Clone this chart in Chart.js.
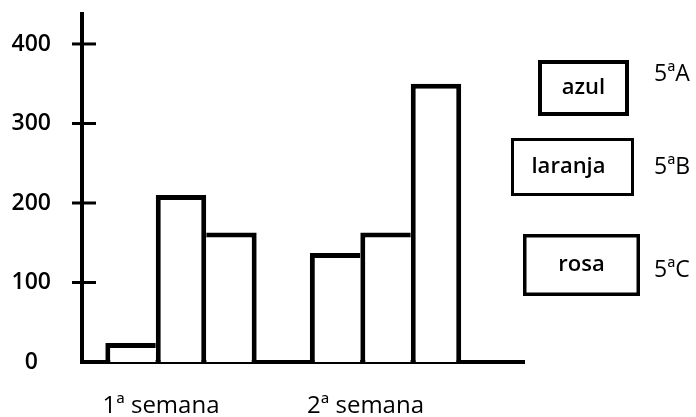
<!DOCTYPE html>
<html><head><meta charset="utf-8">
<script src="https://cdn.jsdelivr.net/npm/chart.js@4.4.1/dist/chart.umd.min.js"></script>
<style>html,body{margin:0;padding:0;background:#fff;overflow:hidden}#wrap{width:696px;height:417px;position:relative}</style>
</head><body><div id="wrap"><canvas id="c" width="696" height="417"></canvas></div>
<script>
const categories = ['1ª semana', '2ª semana'];
const seriesNames = ['5ªA', '5ªB', '5ªC'];
const colorNames = ['azul', 'laranja', 'rosa'];
const values5A = [24, 137];
const values5B = [210, 163];
const values5C = [163, 350];
const yTicks = [0, 100, 200, 300, 400];

const allSeries = [values5A, values5B, values5C];
const FONT = "'Open Sans', 'Liberation Sans', sans-serif";
const BW = 5;

function borderFor(ctx) {
  const d = ctx.datasetIndex, i = ctx.dataIndex;
  const v = allSeries[d][i];
  const prev = d > 0 ? allSeries[d - 1][i] : null;
  const next = d < allSeries.length - 1 ? allSeries[d + 1][i] : null;
  return {
    top: BW,
    bottom: 0,
    left: (prev === null || v >= prev) ? BW : 0,
    right: (next === null || v > next) ? BW : 0
  };
}

const legendPlugin = {
  id: 'boxLegend',
  afterDraw(chart, args, opts) {
    const ctx = chart.ctx;
    ctx.save();
    opts.boxes.forEach((b, i) => {
      ctx.lineWidth = b.lw;
      ctx.strokeStyle = '#000';
      ctx.strokeRect(b.x + b.lw / 2, b.y + b.lw / 2, b.w - b.lw, b.h - b.lw);
      ctx.fillStyle = '#000';
      ctx.font = "600 22px " + FONT;
      ctx.textAlign = 'center';
      ctx.textBaseline = 'middle';
      ctx.fillText(colorNames[i], b.x + b.w / 2 + (b.dx || 0), b.y + b.h / 2);
      ctx.font = "23px " + FONT;
      ctx.textAlign = 'left';
      ctx.fillText(chart.data.datasets[i].label, opts.labelX, b.ly);
    });
    ctx.restore();
  }
};

const crossPlugin = {
  id: 'crossTicks',
  afterDraw(chart) {
    const y = chart.scales.y;
    const ctx = chart.ctx;
    const x0 = chart.chartArea.left;
    ctx.save();
    ctx.strokeStyle = '#000';
    ctx.lineWidth = 3;
    y.ticks.forEach(t => {
      if (t.value === 0) return;
      const py = y.getPixelForValue(t.value);
      ctx.beginPath();
      ctx.moveTo(x0 - 10, py);
      ctx.lineTo(x0 + 14, py);
      ctx.stroke();
    });
    ctx.restore();
  }
};

function noPad(s) {
  s.paddingTop = 0; s.paddingBottom = 0; s.paddingLeft = 0; s.paddingRight = 0;
}

new Chart(document.getElementById('c'), {
  type: 'bar',
  data: {
    datasets: allSeries.map((vals, d) => ({
      label: seriesNames[d],
      data: vals.map((v, i) => ({ x: i + 1, y: v })),
      backgroundColor: '#fff',
      borderColor: '#000',
      borderWidth: borderFor,
      borderSkipped: false,
      barPercentage: 1,
      categoryPercentage: 0.74
    }))
  },
  options: {
    responsive: false,
    animation: false,
    layout: { padding: { top: 14, right: 172, left: 0, bottom: 0 } },
    plugins: {
      legend: { display: false },
      tooltip: { enabled: false },
      boxLegend: {
        labelX: 654,
        boxes: [
          { x: 538, y: 60, w: 91, h: 56, lw: 4, ly: 74 },
          { x: 511, y: 138, w: 123, h: 58, lw: 3, ly: 167, dx: -4 },
          { x: 523, y: 234, w: 117, h: 62, lw: 3.5, ly: 270 }
        ]
      }
    },
    scales: {
      x: {
        type: 'linear',
        min: 0.516,
        max: 2.677,
        offset: false,
        z: 1,
        grid: { display: false, drawTicks: false, offset: false },
        border: { display: true, color: '#000', width: 4 },
        afterBuildTicks: s => { s.ticks = categories.map((c, i) => ({ value: i + 1 })); },
        afterFit: s => { s.height = 55; noPad(s); },
        ticks: {
          callback: v => categories[Math.round(v) - 1] ?? '',
          color: '#000',
          font: { family: FONT, size: 24 },
          padding: 30,
          labelOffset: -20,
          autoSkip: false,
          maxRotation: 0
        }
      },
      y: {
        min: 0,
        max: 437.7,
        z: 1,
        grid: { display: false, drawTicks: false },
        border: { display: true, color: '#000', width: 4 },
        afterBuildTicks: s => { s.ticks = yTicks.map(v => ({ value: v })); },
        afterFit: s => { s.width = 82; noPad(s); },
        ticks: {
          color: '#000',
          font: { family: FONT, size: 23, weight: '600' },
          crossAlign: 'center',
          padding: 31
        }
      }
    }
  },
  plugins: [legendPlugin, crossPlugin]
});
</script>
</body></html>
